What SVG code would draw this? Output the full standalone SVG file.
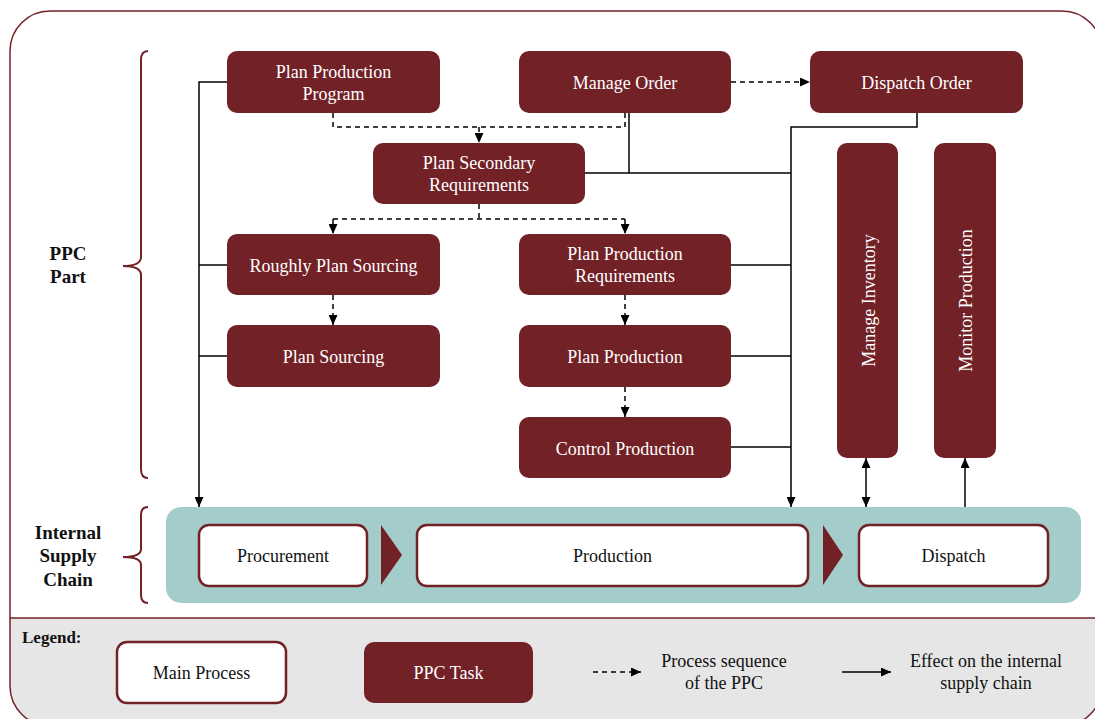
<svg xmlns="http://www.w3.org/2000/svg" width="1095" height="719" viewBox="0 0 1095 719">
<style>
  text { font-family: "Liberation Serif", "Times New Roman", serif; font-size: 18px; text-anchor: middle; }
  .task { fill: #722127; }
  .task-t { fill: #ffffff; }
  .main { fill: #ffffff; stroke: #722127; stroke-width: 2.5; }
  .main-t { fill: #111111; }
  .lbl { font-weight: bold; font-size: 19px; fill: #111111; }
  .brace { fill: none; stroke: #722127; stroke-width: 2; }
  .solid { fill: none; stroke: #000000; stroke-width: 1.5; }
  .dash { fill: none; stroke: #000000; stroke-width: 1.5; stroke-dasharray: 5 4; }
  .tri { fill: #722127; }
</style>
<defs>
  <clipPath id="frameClip">
    <rect x="10" y="11" width="1092" height="715" rx="40" ry="40"/>
  </clipPath>
  <marker id="ah" viewBox="0 0 10 9" refX="10" refY="4.5" markerWidth="10" markerHeight="9" markerUnits="userSpaceOnUse" orient="auto-start-reverse">
    <path d="M0,0 L10,4.5 L0,9 z" fill="#000000"/>
  </marker>
</defs>

<!-- outer frame and legend area -->
<g id="frame">
  <rect x="10" y="11" width="1092" height="715" rx="40" ry="40" fill="#ffffff"/>
  <rect x="0" y="618" width="1110" height="110" fill="#e6e6e6" clip-path="url(#frameClip)"/>
  <line x1="0" y1="618" x2="1110" y2="618" stroke="#722127" stroke-width="1.5" clip-path="url(#frameClip)"/>
  <rect x="10" y="11" width="1092" height="715" rx="40" ry="40" fill="none" stroke="#722127" stroke-width="1.5"/>
</g>

<!-- braces and side labels -->
<g id="ppc-part">
  <path class="brace" d="M148,51 Q141,51 141,60 L141,257 Q141,266 123,266 Q141,266 141,275 L141,469 Q141,478 148,478"/>
  <text class="lbl" x="68" y="260">PPC</text>
  <text class="lbl" x="68" y="283">Part</text>
</g>
<g id="internal-supply-chain">
  <path class="brace" d="M148,507 Q141,507 141,515 L141,549 Q141,557 123,557 Q141,557 141,565 L141,595 Q141,603 148,603"/>
  <text class="lbl" x="68" y="538.5">Internal</text>
  <text class="lbl" x="68" y="562">Supply</text>
  <text class="lbl" x="68" y="585.5">Chain</text>
</g>

<!-- supply chain band -->
<g id="supply-chain-band">
  <rect x="166" y="507" width="915" height="96" rx="15" ry="15" fill="#a3cccb"/>
  <polygon class="tri" points="381,525 402,555 381,585"/>
  <polygon class="tri" points="823,525 843,555 823,585"/>
</g>
<g id="procurement">
  <rect class="main" x="199" y="525" width="168" height="61" rx="10"/>
  <text class="main-t" x="283" y="562">Procurement</text>
</g>
<g id="production">
  <rect class="main" x="417" y="525" width="391" height="61" rx="10"/>
  <text class="main-t" x="612.5" y="562">Production</text>
</g>
<g id="dispatch">
  <rect class="main" x="859" y="525" width="189" height="61" rx="10"/>
  <text class="main-t" x="953.5" y="562">Dispatch</text>
</g>

<!-- PPC tasks -->
<g id="plan-production-program">
  <rect class="task" x="227" y="51" width="213" height="62" rx="10"/>
  <text class="task-t" x="333.5" y="77.5">Plan Production</text>
  <text class="task-t" x="333.5" y="99.5">Program</text>
</g>
<g id="manage-order">
  <rect class="task" x="519" y="51" width="212" height="62" rx="10"/>
  <text class="task-t" x="625" y="89">Manage Order</text>
</g>
<g id="dispatch-order">
  <rect class="task" x="810" y="51" width="213" height="62" rx="10"/>
  <text class="task-t" x="916.5" y="89">Dispatch Order</text>
</g>
<g id="plan-secondary-requirements">
  <rect class="task" x="373" y="143" width="212" height="61" rx="10"/>
  <text class="task-t" x="479" y="169">Plan Secondary</text>
  <text class="task-t" x="479" y="191">Requirements</text>
</g>
<g id="roughly-plan-sourcing">
  <rect class="task" x="227" y="234" width="213" height="61" rx="10"/>
  <text class="task-t" x="333.5" y="272">Roughly Plan Sourcing</text>
</g>
<g id="plan-sourcing">
  <rect class="task" x="227" y="325" width="213" height="62" rx="10"/>
  <text class="task-t" x="333.5" y="363">Plan Sourcing</text>
</g>
<g id="plan-production-requirements">
  <rect class="task" x="519" y="234" width="212" height="61" rx="10"/>
  <text class="task-t" x="625" y="260">Plan Production</text>
  <text class="task-t" x="625" y="282">Requirements</text>
</g>
<g id="plan-production">
  <rect class="task" x="519" y="325" width="212" height="62" rx="10"/>
  <text class="task-t" x="625" y="363">Plan Production</text>
</g>
<g id="control-production">
  <rect class="task" x="519" y="417" width="212" height="61" rx="10"/>
  <text class="task-t" x="625" y="455">Control Production</text>
</g>
<g id="manage-inventory">
  <rect class="task" x="837" y="143" width="61" height="315" rx="10"/>
  <text class="task-t" transform="translate(867.5,300.5) rotate(-90)" x="0" y="7">Manage Inventory</text>
</g>
<g id="monitor-production">
  <rect class="task" x="934" y="143" width="62" height="315" rx="10"/>
  <text class="task-t" transform="translate(965,300.5) rotate(-90)" x="0" y="7">Monitor Production</text>
</g>

<!-- connectors -->
<g id="connectors">
  <!-- effect on supply chain (solid) -->
  <path class="solid" d="M227,82 H199 V507" marker-end="url(#ah)"/>
  <path class="solid" d="M227,265 H199"/>
  <path class="solid" d="M227,356 H199"/>
  <path class="solid" d="M629,113 V173"/>
  <path class="solid" d="M585,173 H791"/>
  <path class="solid" d="M917,113 V127 H791 V507" marker-end="url(#ah)"/>
  <path class="solid" d="M731,265 H791"/>
  <path class="solid" d="M731,356 H791"/>
  <path class="solid" d="M731,447 H791"/>
  <path class="solid" d="M866,458 V507" marker-start="url(#ah)" marker-end="url(#ah)"/>
  <path class="solid" d="M965,507 V458" marker-end="url(#ah)"/>
  <!-- process sequence (dashed) -->
  <path class="dash" d="M333,113 V127 H625 V113"/>
  <path class="dash" d="M479,127 V143" marker-end="url(#ah)"/>
  <path class="dash" d="M731,82 H810" marker-end="url(#ah)"/>
  <path class="dash" d="M479,204 V219"/>
  <path class="dash" d="M333,219 H625"/>
  <path class="dash" d="M333,219 V234" marker-end="url(#ah)"/>
  <path class="dash" d="M625,219 V234" marker-end="url(#ah)"/>
  <path class="dash" d="M333,295 V325" marker-end="url(#ah)"/>
  <path class="dash" d="M625,295 V325" marker-end="url(#ah)"/>
  <path class="dash" d="M625,387 V417" marker-end="url(#ah)"/>
</g>

<!-- legend -->
<g id="legend">
  <text x="22" y="643" style="text-anchor:start;font-weight:bold;font-size:17px;fill:#111111">Legend:</text>
  <g id="legend-main-process">
    <rect class="main" x="117" y="642" width="169" height="61" rx="10"/>
    <text class="main-t" x="201.5" y="679">Main Process</text>
  </g>
  <g id="legend-ppc-task">
    <rect class="task" x="364" y="642" width="169" height="61" rx="10"/>
    <text class="task-t" x="448.5" y="679">PPC Task</text>
  </g>
  <g id="legend-process-sequence">
    <path class="dash" d="M593,672 H641" marker-end="url(#ah)"/>
    <text class="main-t" x="724" y="667">Process sequence</text>
    <text class="main-t" x="724" y="689">of the PPC</text>
  </g>
  <g id="legend-effect">
    <path class="solid" d="M842,672 H891" marker-end="url(#ah)"/>
    <text class="main-t" x="986" y="667">Effect on the internal</text>
    <text class="main-t" x="986" y="689">supply chain</text>
  </g>
</g>
</svg>
